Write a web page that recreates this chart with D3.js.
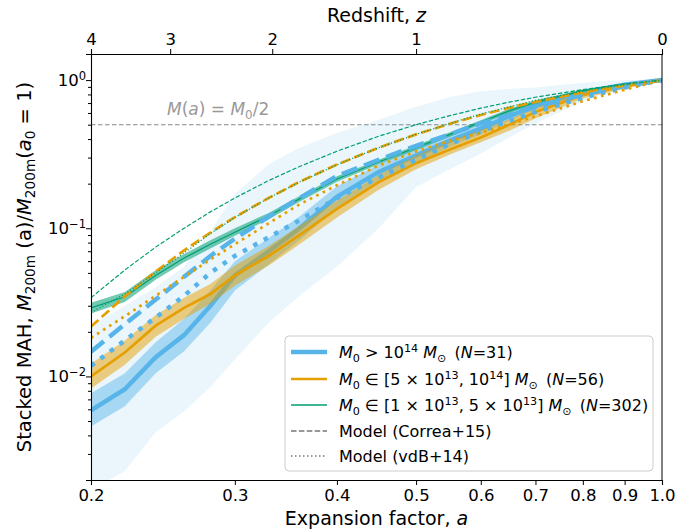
<!DOCTYPE html>
<html><head><meta charset="utf-8">
<script src="https://cdn.jsdelivr.net/npm/d3@7/dist/d3.min.js"></script>
<style>body{margin:0;background:#fff}svg{display:block;font-family:"DejaVu Sans",sans-serif}</style>
</head><body><svg id="c" width="698" height="532"></svg>
<script>
// ---------------- data ----------------
const aGrid = [0.2,0.22,0.24,0.26,0.28,0.3,0.33,0.36,0.4,0.45,0.5,0.55,0.6,0.65,0.7,0.8,0.9,1.0];
// M0 > 1e14 (blue)
const blueMed  = [0.0059,0.0082,0.0135,0.019,0.030,0.048,0.070,0.100,0.163,0.24,0.31,0.39,0.47,0.57,0.67,0.83,0.93,1.0];
const blueLo   = [0.0046,0.0063,0.0105,0.0148,0.023,0.038,0.057,0.083,0.138,0.21,0.275,0.355,0.43,0.53,0.63,0.80,0.91,0.99];
const blueHi   = [0.0077,0.0105,0.0170,0.0245,0.038,0.060,0.086,0.120,0.192,0.27,0.345,0.43,0.51,0.61,0.71,0.86,0.95,1.01];
const blueMin  = [0.0017,0.0023,0.0042,0.0058,0.0085,0.013,0.023,0.035,0.055,0.10,0.19,0.25,0.32,0.41,0.51,0.72,0.90,0.99];
const blueMax  = [0.022,0.030,0.040,0.055,0.095,0.17,0.27,0.35,0.44,0.54,0.66,0.77,0.84,0.87,0.89,0.96,1.0,1.01];
// M0 in [5e13,1e14] (orange)
const orangeMed = [0.0100,0.0145,0.022,0.029,0.036,0.048,0.065,0.090,0.135,0.205,0.275,0.34,0.41,0.50,0.61,0.79,0.91,1.0];
const orangeLo  = [0.0083,0.0120,0.0185,0.0245,0.031,0.041,0.056,0.078,0.118,0.182,0.25,0.315,0.38,0.455,0.55,0.75,0.875,0.99];
const orangeHi  = [0.0122,0.0175,0.026,0.034,0.042,0.056,0.076,0.104,0.154,0.23,0.31,0.385,0.46,0.545,0.65,0.83,0.925,1.01];
// M0 in [1e13,5e13] (green)
const greenMed = [0.029,0.0345,0.048,0.063,0.078,0.094,0.121,0.158,0.215,0.28,0.35,0.43,0.52,0.62,0.71,0.85,0.94,1.0];
const greenLo  = [0.0266,0.0318,0.045,0.059,0.073,0.089,0.115,0.151,0.206,0.27,0.337,0.415,0.505,0.60,0.69,0.835,0.93,0.995];
const greenHi  = [0.0314,0.0372,0.052,0.067,0.083,0.100,0.127,0.165,0.224,0.29,0.363,0.445,0.535,0.64,0.73,0.865,0.95,1.005];
// Model (Correa+15), dashed
const blueCorrea   = [0.0147,0.0225,0.033,0.047,0.065,0.085,0.12,0.16,0.225,0.29,0.36,0.43,0.51,0.58,0.66,0.80,0.91,1.0];
const orangeCorrea = [0.0217,0.0347,0.0511,0.0709,0.0935,0.119,0.160,0.206,0.269,0.350,0.430,0.508,0.581,0.650,0.713,0.826,0.921,1.0];
const greenCorrea  = [0.034,0.0523,0.0746,0.100,0.129,0.160,0.210,0.261,0.331,0.418,0.500,0.576,0.647,0.710,0.766,0.863,0.940,1.0];
// Model (vdB+14), dotted
const blueVdB   = [0.0118,0.0175,0.025,0.035,0.050,0.065,0.087,0.113,0.160,0.22,0.29,0.37,0.45,0.53,0.61,0.76,0.89,1.0];
const orangeVdB = [0.0182,0.0255,0.035,0.047,0.0615,0.078,0.108,0.145,0.195,0.265,0.33,0.39,0.44,0.50,0.57,0.72,0.86,1.0];
const greenVdB  = [0.027,0.036,0.050,0.068,0.092,0.118,0.160,0.205,0.268,0.35,0.43,0.51,0.59,0.66,0.73,0.84,0.93,1.0];
// axes
const xTicks = [0.2,0.3,0.4,0.5,0.6,0.7,0.8,0.9,1.0];
const zTicks = [4,3,2,1,0];
const yMajor = [1,0.1,0.01];
const yExp = ["0","\u22121","\u22122"];
const halfMass = 0.5;

// ---------------- drawing ----------------
const BLUE="#56B4E9", ORANGE="#E69F00", GREEN="#009E73";
const svg = d3.select("#c");
const L=91,R=662,T=54,B=480;
const x = d3.scaleLog().domain([0.2,1.0]).range([L,R]);
const y = d3.scaleLog().domain([0.002,1.5]).range([B,T]);

svg.append("defs").append("clipPath").attr("id","clip")
  .append("rect").attr("x",L).attr("y",T).attr("width",R-L).attr("height",B-T);
const g = svg.append("g").attr("clip-path","url(#clip)");

const idx = d3.range(aGrid.length);
const area = (lo,hi)=>d3.area().x(i=>x(aGrid[i])).y0(i=>y(lo[i])).y1(i=>y(hi[i]));
const line = (v)=>d3.line().x(i=>x(aGrid[i])).y(i=>y(v[i]));

// half-mass line
g.append("line").attr("x1",L).attr("x2",R).attr("y1",y(halfMass)).attr("y2",y(halfMass))
  .attr("stroke","#888").attr("stroke-width",1.1).attr("stroke-dasharray","4.5,2.5");

// bands and median lines
g.append("path").datum(idx).attr("d",area(blueMin,blueMax)).attr("fill",BLUE).attr("fill-opacity",0.12);
g.append("path").datum(idx).attr("d",area(blueLo,blueHi)).attr("fill",BLUE).attr("fill-opacity",0.45);
g.append("path").datum(idx).attr("d",line(blueMed)).attr("fill","none").attr("stroke",BLUE).attr("stroke-width",4.5);
g.append("path").datum(idx).attr("d",area(orangeLo,orangeHi)).attr("fill",ORANGE).attr("fill-opacity",0.5);
g.append("path").datum(idx).attr("d",line(orangeMed)).attr("fill","none").attr("stroke",ORANGE).attr("stroke-width",2.7);
g.append("path").datum(idx).attr("d",area(greenLo,greenHi)).attr("fill",GREEN).attr("fill-opacity",0.55);
g.append("path").datum(idx).attr("d",line(greenMed)).attr("fill","none").attr("stroke",GREEN).attr("stroke-width",1.3);

// models
const models = [
  [blueCorrea,BLUE,4.5,"16.5,7.2"],[orangeCorrea,ORANGE,2.7,"10,4.3"],[greenCorrea,GREEN,1.2,"4.4,1.9"],
  [blueVdB,BLUE,4.5,"4.5,7.4"],[orangeVdB,ORANGE,2.7,"2.7,4.5"],[greenVdB,GREEN,1.2,"1.2,2"]
];
models.forEach(([v,c,w,d])=>{
  g.append("path").datum(idx).attr("d",line(v)).attr("fill","none").attr("stroke",c)
   .attr("stroke-width",w).attr("stroke-dasharray",d);
});

// rich text helper
function rich(t, parts, fs){
  let off=0;
  parts.forEach(p=>{
    const [s,k]=p; const ts=t.append("tspan").text(s);
    let target=0;
    if(k&&k.includes("sub")){target=0.22*fs; ts.attr("font-size",0.7*fs);}
    if(k&&k.includes("sup")){target=-0.38*fs; ts.attr("font-size",0.7*fs);}
    if(k&&k.includes("i")) ts.attr("font-style","italic");
    const dy=target-off; if(dy!==0) ts.attr("dy",dy);
    off=target;
  });
}
const tfs=16.5;
const hm = svg.append("text").attr("x",167).attr("y",115).attr("font-size",17).attr("fill","#999");
rich(hm,[["M","i"],["("],["a","i"],[") = "],["M","i"],["0","sub"],["/2"]],17);

// axes
const ax = svg.append("g").attr("font-size",tfs);
const axB = d3.axisBottom(x).tickValues(xTicks).tickFormat(d3.format(".1f")).tickSize(5).tickPadding(4);
const gb = ax.append("g").attr("transform",`translate(0,${B})`).call(axB);
const axT = d3.axisTop(x).tickValues(zTicks.map(z=>1/(1+z))).tickFormat((d,i)=>String(zTicks[i])).tickSize(5).tickPadding(4);
const gt = ax.append("g").attr("transform",`translate(0,${T})`).call(axT);
const minors=[];
[0.001,0.01,0.1,1].forEach(d=>{for(let k=2;k<=9;k++){const v=d*k; if(v>=0.002&&v<=1.5) minors.push(v);}});
const gl = ax.append("g").attr("transform",`translate(${L},0)`).call(d3.axisLeft(y).tickValues(yMajor).tickFormat("").tickSize(5));
ax.append("g").attr("transform",`translate(${L},0)`).call(d3.axisLeft(y).tickValues(minors).tickFormat("").tickSize(3)).select(".domain").remove();
ax.append("line").attr("x1",R).attr("x2",R).attr("y1",T).attr("y2",B).attr("stroke","#000");
[gb,gt,gl].forEach(s=>{s.selectAll("text").attr("font-family","DejaVu Sans").attr("font-size",tfs).attr("fill","#000");
  s.selectAll(".domain").attr("stroke","#000").attr("stroke-width",1.1);});
ax.selectAll(".tick line").attr("stroke","#000");
yMajor.forEach((v,i)=>{
  const t=svg.append("text").attr("x",86).attr("y",y(v)+6).attr("text-anchor","end").attr("font-size",tfs);
  rich(t,[["10"],[yExp[i],"sup"]],tfs);
});

// axis titles
const lfs=19;
const xt=svg.append("text").attr("x",(L+R)/2).attr("y",525).attr("text-anchor","middle").attr("font-size",lfs);
rich(xt,[["Expansion factor, "],["a","i"]],lfs);
const zt=svg.append("text").attr("x",(L+R)/2).attr("y",22).attr("text-anchor","middle").attr("font-size",lfs);
rich(zt,[["Redshift, "],["z","i"]],lfs);
const yt=svg.append("text").attr("transform",`translate(31,${(T+B)/2}) rotate(-90)`).attr("text-anchor","middle").attr("font-size",19.5);
rich(yt,[["Stacked MAH, "],["M","i"],["200m","sub"],[" (a)/"],["M","i"],["200m","sub"],["("],["a","i"],["0","sub"],[" = 1)"]],19.5);

// legend
const lg = svg.append("g");
lg.append("rect").attr("x",285).attr("y",336).attr("width",368).attr("height",135).attr("rx",4)
  .attr("fill","#fff").attr("fill-opacity",0.8).attr("stroke","#ccc");
const lfs2=16;
const sp="\u2002(";
const entries=[
  {c:BLUE,w:4.5,d:null,p:[["M","i"],["0","sub"],[" > 10"],["14","sup"],[" "],["M","i"],["\u2299","sub"],[sp],["N","i"],["=31)"]]},
  {c:ORANGE,w:2.7,d:null,p:[["M","i"],["0","sub"],[" \u2208 [5 \u00d7 10"],["13","sup"],[", 10"],["14","sup"],["] "],["M","i"],["\u2299","sub"],[sp],["N","i"],["=56)"]]},
  {c:GREEN,w:1.3,d:null,p:[["M","i"],["0","sub"],[" \u2208 [1 \u00d7 10"],["13","sup"],[", 5 \u00d7 10"],["13","sup"],["] "],["M","i"],["\u2299","sub"],[sp],["N","i"],["=302)"]]},
  {c:"#777",w:1.5,d:"5.5,2.4",p:[["Model (Correa+15)"]]},
  {c:"#777",w:1.5,d:"1.5,2.5",p:[["Model (vdB+14)"]]}
];
const ly=[352,379,405,431,456];
entries.forEach((e,i)=>{
  const l=lg.append("line").attr("x1",291).attr("x2",327).attr("y1",ly[i]).attr("y2",ly[i]).attr("stroke",e.c).attr("stroke-width",e.w);
  if(e.d) l.attr("stroke-dasharray",e.d);
  const t=lg.append("text").attr("x",339).attr("y",ly[i]+6).attr("font-size",lfs2).attr("xml:space","preserve");
  rich(t,e.p,lfs2);
});
</script></body></html>
